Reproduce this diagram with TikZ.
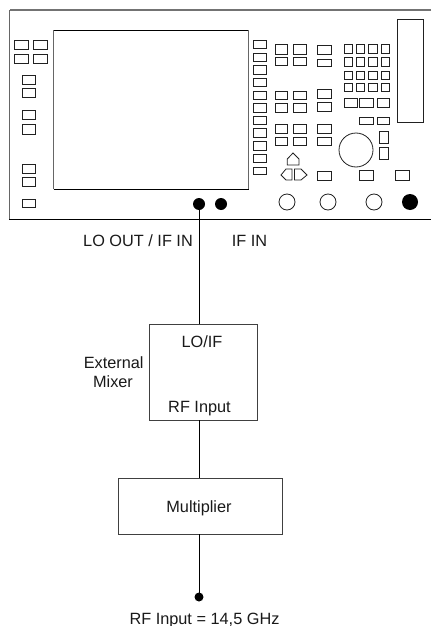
\documentclass[tikz,border=0pt]{standalone}
\usepackage{fontspec}
\setmainfont{Liberation Sans}
\definecolor{edge}{gray}{0.13}
\tikzset{
  btn/.style={draw=edge,line width=0.8pt,fill=white},
  frameline/.style={draw=black!55,line width=1.6pt},
  wire/.style={draw=black,line width=0.8pt},
  boxnode/.style={draw=black!75,line width=0.8pt,inner sep=0pt,minimum width=0pt},
  dotnode/.style={circle,fill=black,draw=none,inner sep=0pt},
  lbl/.style={inner sep=0pt,anchor=base,font=\fontsize{16.3}{20}\selectfont,text=black!90,align=center}
}
\newcommand{\bx}[4]{\draw[btn] (#1,#3) rectangle (#2,#4);}
\begin{document}
\begin{tikzpicture}[x=1pt,y=-1pt]
\useasboundingbox (0,0) rectangle (431,626);
% instrument frame
\draw[frameline] (431,10) -- (9.5,10);
\draw[draw=black!60,line width=1pt] (9.5,10) -- (9.5,219);
\draw[wire] (9,219.3) -- (431,219.3);
% screen
\draw[draw=black,line width=0.9pt] (53.5,30.5) -- (248.5,30.5);
\draw[draw=black,line width=0.9pt] (53.5,189) -- (248.5,189);
\draw[draw=black!60,line width=1pt] (53.5,30.5) -- (53.5,189);
\draw[draw=black!60,line width=1pt] (248.5,30.5) -- (248.5,189);
% left buttons
\bx{14.5}{28.5}{40}{49}\bx{33.5}{47}{40}{49}
\bx{14.5}{28.5}{54}{63}\bx{33.5}{47}{54}{63}
\foreach \a/\b in {75.5/84,88/97,110.5/119.5,124/134,164.5/173,177/186,199/207}
  {\bx{22.5}{35.5}{\a}{\b}}
% softkey column
\foreach \a/\b in {40/48,53/61,65/74,78/86,91/99,103/112,116/124,128/137,141/150,154/162,167/174}
  {\bx{253.5}{266.5}{\a}{\b}}
% centre groups
\foreach \a/\b in {44/54,57/65,91/99,103/112,124/133,137/145}
  {\bx{275}{287.5}{\a}{\b}\bx{293.5}{306.5}{\a}{\b}}
\foreach \a/\b in {45/54,59/66,89/98,102/111,124/133,137/145}
  {\bx{317}{331}{\a}{\b}}
% keypad
\foreach \a/\b in {44/53,57/66,71/79,83/91}
  {\bx{344}{352}{\a}{\b}\bx{356}{364}{\a}{\b}\bx{368}{377}{\a}{\b}\bx{381}{389}{\a}{\b}}
\bx{344}{357}{98}{107}\bx{359}{373}{98}{107}\bx{377}{389}{98}{107}
\bx{359}{373}{117}{124}\bx{377}{389}{117}{124}
\bx{379}{388}{131}{143}\bx{379}{388}{147}{159}
\bx{397}{423}{19.5}{122.5}
% knob
\draw[btn] (356,150) circle (17);
% arrow keys
\draw[btn] (287.3,165) -- (287.3,159) -- (293,153) -- (299,159) -- (299,165) -- cycle;
\draw[btn] (292,169) -- (286,169) -- (281,175) -- (286,180) -- (292,180) -- cycle;
\draw[btn] (294.5,169) -- (301,169) -- (307,175) -- (301,180) -- (294.5,180) -- cycle;
% lower buttons
\bx{317}{331}{171}{180}\bx{359.5}{373.5}{170}{180}\bx{395.5}{409.5}{170}{180}
% round connectors
\foreach \x in {287,328,374}{\draw[btn] (\x,202) circle (8);}
\node[dotnode,minimum size=16pt] (cal) at (410,202) {};
\node[dotnode,minimum size=12pt] (loout) at (199,204) {};
\node[dotnode,minimum size=12pt] (ifin) at (221,204) {};
% lower chain
\node[boxnode,minimum width=108pt,minimum height=96pt] (mixer) at (203,372) {};
\node[boxnode,minimum width=164pt,minimum height=56pt] (mult) at (200,506) {};
\node[dotnode,minimum size=9pt] (rf) at (199,597) {};
\coordinate (mixtop) at (199,324);
\coordinate (mixbot) at (199,420);
\coordinate (multtop) at (199,478);
\coordinate (multbot) at (199,534);
\draw[wire] (loout.center) -- (mixtop);
\draw[wire] (mixbot) -- (multtop);
\draw[wire] (multbot) -- (rf.center);
% labels
\node[lbl] (l1) at (138,246.5) {LO OUT / IF IN};
\node[lbl] (l2) at (249.5,246.5) {IF IN};
\node[lbl] (l3) at (202,347.3) {LO/IF};
\node[lbl] (l4) at (199.5,412.3) {RF Input};
\node[lbl] (l5) at (113.7,368) {External};
\node[lbl] (l6) at (113,387.3) {Mixer};
\node[lbl] (l7) at (199,512) {Multiplier};
\node[lbl] (l8) at (204.5,624) {RF Input = 14,5 GHz};
\end{tikzpicture}
\end{document}
